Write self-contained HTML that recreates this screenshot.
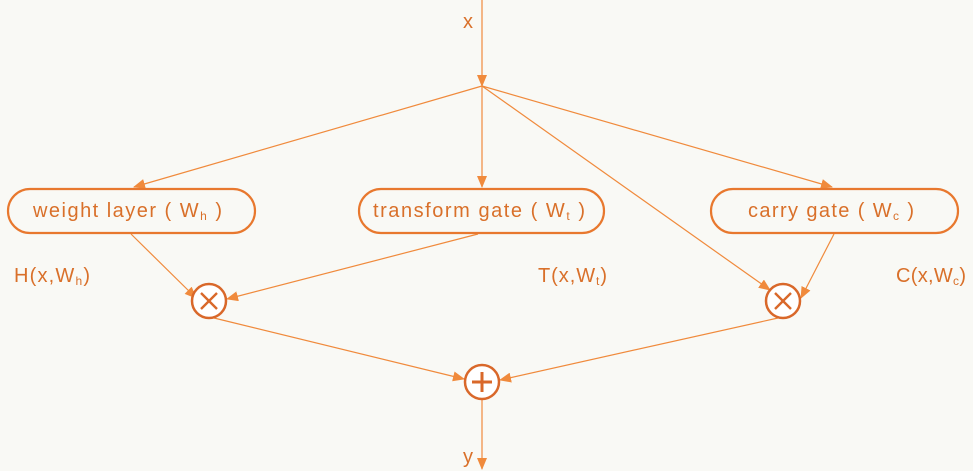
<!DOCTYPE html>
<html><head><meta charset="utf-8"><style>
html,body{margin:0;padding:0;background:#f9f9f5;}
svg{display:block;}
text{font-family:"Liberation Sans",sans-serif;fill:#d9702a;}
</style></head><body>
<svg width="973" height="471" viewBox="0 0 973 471" xmlns="http://www.w3.org/2000/svg">
<defs>
<marker id="a" markerWidth="12" markerHeight="10" refX="11" refY="5" orient="auto" markerUnits="userSpaceOnUse">
<path d="M0,0 L12,5 L0,10 Z" fill="#f08a3c"/>
</marker>
</defs>
<g stroke="#f08a3c" stroke-width="1.2" fill="none" marker-end="url(#a)">
<line x1="482" y1="0" x2="482" y2="86"/>
<line x1="482" y1="86" x2="134" y2="187"/>
<line x1="482" y1="86" x2="482" y2="187"/>
<line x1="482" y1="86" x2="832" y2="187"/>
<line x1="482" y1="86" x2="770" y2="290"/>
<line x1="131" y1="234" x2="196" y2="298"/>
<line x1="478" y1="234" x2="227" y2="299"/>
<line x1="834" y1="234" x2="801" y2="298"/>
<line x1="214" y1="318" x2="464" y2="379"/>
<line x1="778" y1="318" x2="500" y2="380"/>
<line x1="482" y1="400" x2="482" y2="469"/>
</g>
<g stroke="#e8782e" stroke-width="2.2" fill="none">
<rect x="8" y="189" width="247" height="44" rx="22"/>
<rect x="359" y="189" width="245" height="44" rx="22"/>
<rect x="711" y="189" width="247" height="44" rx="22"/>
</g>
<g stroke="#d9682a" stroke-width="2.5" fill="#fff">
<circle cx="209" cy="301" r="17"/>
<circle cx="783" cy="301" r="17"/>
<circle cx="482" cy="382" r="17"/>
</g>
<g stroke="#d9682a" stroke-width="2.4">
<line x1="201" y1="293" x2="217" y2="309"/><line x1="217" y1="293" x2="201" y2="309"/>
<line x1="775" y1="293" x2="791" y2="309"/><line x1="791" y1="293" x2="775" y2="309"/>
<line x1="472" y1="382" x2="492" y2="382" stroke-width="3"/><line x1="482" y1="372" x2="482" y2="392" stroke-width="3"/>
</g>
<text x="463" y="28" font-size="20">x</text>
<text x="463" y="463" font-size="20">y</text>
<text x="33" y="217" font-size="20" textLength="189" lengthAdjust="spacing">weight layer ( W<tspan font-size="12" dy="3">h</tspan><tspan dy="-3"> )</tspan></text>
<text x="373" y="217" font-size="20" textLength="212" lengthAdjust="spacing">transform gate ( W<tspan font-size="12" dy="3">t</tspan><tspan dy="-3"> )</tspan></text>
<text x="748" y="217" font-size="20" textLength="166" lengthAdjust="spacing">carry gate ( W<tspan font-size="12" dy="3">c</tspan><tspan dy="-3"> )</tspan></text>
<text x="14" y="282" font-size="20" textLength="76" lengthAdjust="spacing">H(x,W<tspan font-size="12" dy="3">h</tspan><tspan dy="-3">)</tspan></text>
<text x="538" y="282" font-size="20" textLength="69" lengthAdjust="spacing">T(x,W<tspan font-size="12" dy="3">t</tspan><tspan dy="-3">)</tspan></text>
<text x="896" y="282" font-size="20" textLength="70" lengthAdjust="spacing">C(x,W<tspan font-size="12" dy="3">c</tspan><tspan dy="-3">)</tspan></text>
</svg>
</body></html>
